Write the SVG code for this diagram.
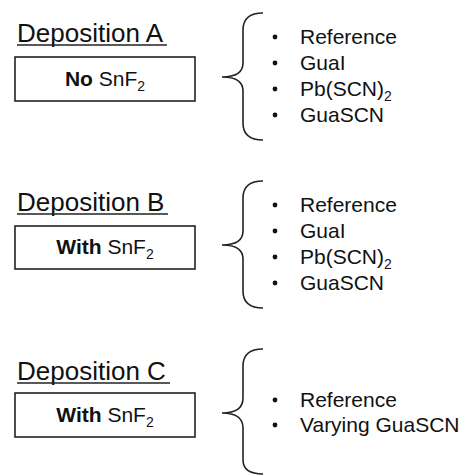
<svg xmlns="http://www.w3.org/2000/svg" width="466" height="475" viewBox="0 0 466 475">
<style>
text{font-family:"Liberation Sans",Arial,sans-serif;fill:#111}
.t{font-size:26px}
.b{font-size:21px}
.l{font-size:21px}
.sub{font-size:14px}
.bx{fill:#fff;stroke:#222;stroke-width:1.6}
.ul{stroke:#222;stroke-width:1.5}
.br{fill:none;stroke:#222;stroke-width:1.6}
.dot{fill:#111}
</style>
<defs>
<path id="brace" class="br" d="M263,0 C251,0 243,5 243,17 L243,50 C243,60 236,64 222,64 C236,64 243,68 243,78 L243,110 C243,122 251,127 263,127"/>
</defs>
<g id="nodeA">
<text class="t" x="17" y="42">Deposition A</text>
<line class="ul" x1="17" y1="45" x2="167" y2="45"/>
<rect class="bx" x="15" y="57" width="180" height="44"/>
<text class="b" x="105" y="86" text-anchor="middle"><tspan font-weight="bold">No</tspan> SnF<tspan class="sub" dy="5">2</tspan></text>
</g>
<g id="listA">
<use href="#brace" transform="translate(0,13)"/>
<circle class="dot" cx="275" cy="37" r="2.4"/>
<circle class="dot" cx="275" cy="63" r="2.4"/>
<circle class="dot" cx="275" cy="89" r="2.4"/>
<circle class="dot" cx="275" cy="115" r="2.4"/>
<text class="l" x="300" y="44">Reference</text>
<text class="l" x="300" y="70">GuaI</text>
<text class="l" x="300" y="96">Pb(SCN)<tspan class="sub" dy="5">2</tspan></text>
<text class="l" x="300" y="122">GuaSCN</text>
</g>
<g id="nodeB">
<text class="t" x="17" y="211">Deposition B</text>
<line class="ul" x1="17" y1="214" x2="168" y2="214"/>
<rect class="bx" x="15" y="226" width="180" height="43"/>
<text class="b" x="105" y="254" text-anchor="middle"><tspan font-weight="bold">With</tspan> SnF<tspan class="sub" dy="5">2</tspan></text>
</g>
<g id="listB">
<use href="#brace" transform="translate(0,181)"/>
<circle class="dot" cx="275" cy="205" r="2.4"/>
<circle class="dot" cx="275" cy="231" r="2.4"/>
<circle class="dot" cx="275" cy="257" r="2.4"/>
<circle class="dot" cx="275" cy="283" r="2.4"/>
<text class="l" x="300" y="212">Reference</text>
<text class="l" x="300" y="238">GuaI</text>
<text class="l" x="300" y="264">Pb(SCN)<tspan class="sub" dy="5">2</tspan></text>
<text class="l" x="300" y="290">GuaSCN</text>
</g>
<g id="nodeC">
<text class="t" x="17" y="380">Deposition C</text>
<line class="ul" x1="17" y1="383" x2="170" y2="383"/>
<rect class="bx" x="15" y="393" width="180" height="44"/>
<text class="b" x="105" y="422" text-anchor="middle"><tspan font-weight="bold">With</tspan> SnF<tspan class="sub" dy="5">2</tspan></text>
</g>
<g id="listC">
<path class="br" d="M263,349 C251,349 243,354 243,366 L243,398 C243,408 236,413 222,413 C236,413 243,418 243,428 L243,460 C243,470 251,474 263,474"/>
<circle class="dot" cx="275" cy="400" r="2.4"/>
<circle class="dot" cx="275" cy="425" r="2.4"/>
<text class="l" x="300" y="407">Reference</text>
<text class="l" x="300" y="432">Varying GuaSCN</text>
</g>
<g id="connectors"/>
</svg>
